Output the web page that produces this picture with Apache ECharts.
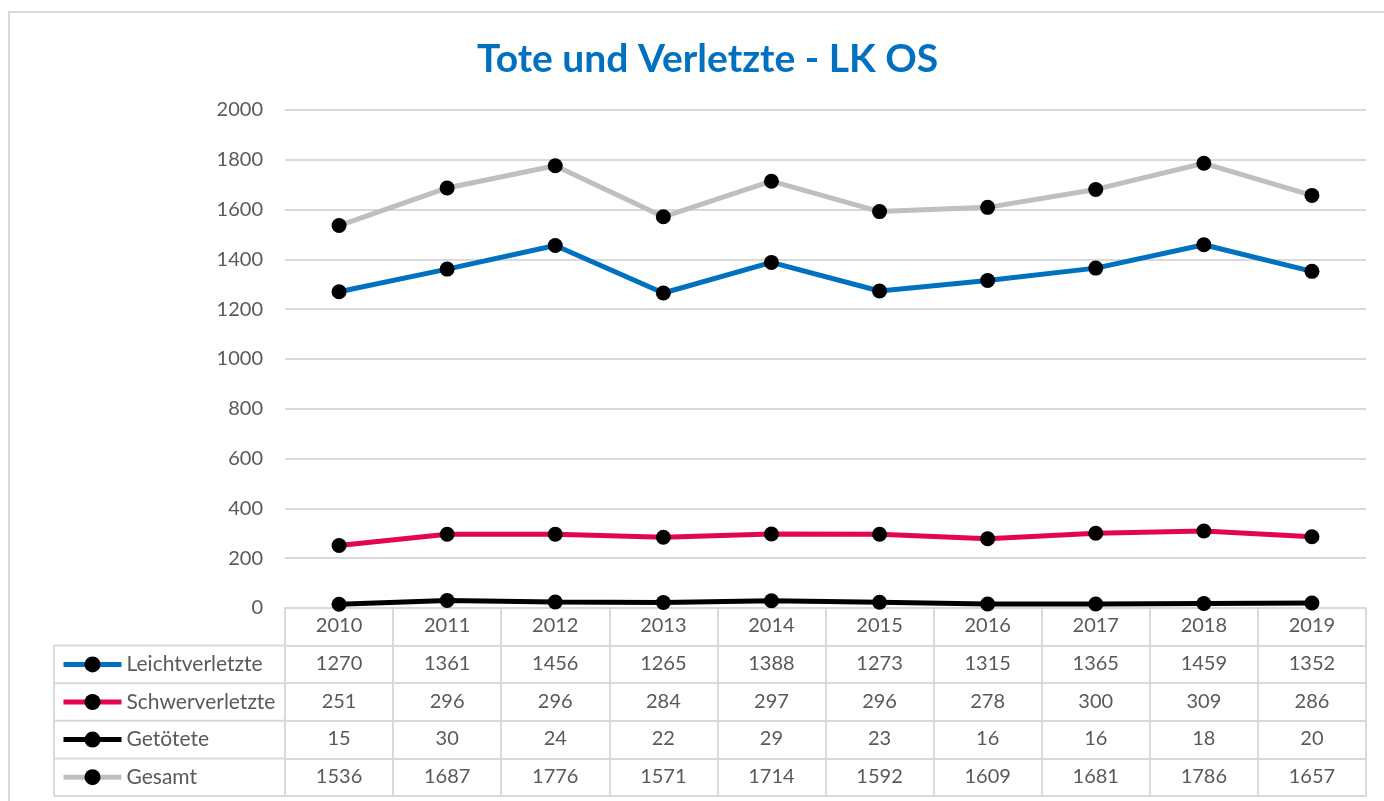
<!DOCTYPE html>
<html>
<head>
<meta charset="utf-8">
<script src="https://cdn.jsdelivr.net/npm/echarts@6/dist/echarts.min.js"></script>
<style>
  html, body { margin: 0; padding: 0; background: #fff; }
  #chart { width: 1384px; height: 801px; }
</style>
</head>
<body>
<div id="chart"></div>
<script>
// data
const years = ['2010', '2011', '2012', '2013', '2014', '2015', '2016', '2017', '2018', '2019']
const leicht = [1270, 1361, 1456, 1265, 1388, 1273, 1315, 1365, 1459, 1352]
const schwer = [251, 296, 296, 284, 297, 296, 278, 300, 309, 286]
const getoetet = [15, 30, 24, 22, 29, 23, 16, 16, 18, 20]
const gesamt = [1536, 1687, 1776, 1571, 1714, 1592, 1609, 1681, 1786, 1657]
const yTicks = [0, 2000, 200]

const seriesDefs = [
  { name: 'Leichtverletzte', color: '#0070C0', data: leicht },
  { name: 'Schwerverletzte', color: '#E3064E', data: schwer },
  { name: 'Getötete', color: '#000000', data: getoetet },
  { name: 'Gesamt', color: '#BFBFBF', data: gesamt }
]

const FONT = 'Lato'
const TXT = '#595959'
const LINE = '#d9d9d9'
const ROW = 37.6
const gridTop = 110, gridBottom = 193, gridLeft = 285, gridRight = 18
const axisY = 801 - gridBottom
const tableLeft = 54

let myChart = echarts.init(document.getElementById('chart'))

// table rows as extra x axes (one per series) + closing line
let xAxes = [{
  type: 'category',
  data: years,
  gridIndex: 0,
  position: 'bottom',
  axisLine: { show: true, lineStyle: { color: LINE, width: 2 } },
  axisTick: { show: true, interval: 0, length: ROW, lineStyle: { color: LINE, width: 2 } },
  axisLabel: { interval: 0, color: TXT, fontSize: 20, fontFamily: FONT, margin: 8 }
}]
seriesDefs.forEach((s, k) => {
  xAxes.push({
    type: 'category',
    data: years,
    gridIndex: 0,
    position: 'bottom',
    offset: ROW * (k + 1),
    axisLine: { show: true, lineStyle: { color: LINE, width: 2 } },
    axisTick: { show: true, interval: 0, length: ROW, lineStyle: { color: LINE, width: 2 } },
    axisLabel: {
      interval: 0, color: TXT, fontSize: 20, fontFamily: FONT, margin: 8,
      formatter: (v, i) => String(s.data[i])
    }
  })
})
xAxes.push({
  type: 'category',
  data: years,
  gridIndex: 0,
  position: 'bottom',
  offset: ROW * 5,
  axisLine: { show: true, lineStyle: { color: LINE, width: 2 } },
  axisTick: { show: false },
  axisLabel: { show: false }
})

// left column lines of the table
let tableLines = []
for (let k = 1; k <= 5; k++) {
  tableLines.push({
    type: 'line',
    shape: { x1: tableLeft, y1: axisY + ROW * k, x2: gridLeft, y2: axisY + ROW * k },
    style: { stroke: LINE, lineWidth: 2 }
  })
}
tableLines.push({
  type: 'line',
  shape: { x1: tableLeft, y1: axisY + ROW, x2: tableLeft, y2: axisY + ROW * 5 },
  style: { stroke: LINE, lineWidth: 2 }
})

myChart.setOption({
  animation: false,
  backgroundColor: '#fff',
  title: {
    text: 'Tote und Verletzte - LK OS',
    left: 472,
    top: 35,
    textStyle: { color: '#0070C0', fontSize: 39, fontWeight: 'bold', fontFamily: FONT }
  },
  grid: { top: gridTop, bottom: gridBottom, left: gridLeft, right: gridRight, containLabel: false },
  legend: {
    orient: 'vertical',
    left: 56,
    top: axisY + ROW + (ROW - 22) / 2 - 5,
    itemWidth: 58,
    itemHeight: 20,
    itemGap: ROW - 22,
    selectedMode: false,
    lineStyle: { width: 5 },
    textStyle: { color: TXT, fontSize: 21, fontFamily: FONT, lineHeight: 22 },
    data: seriesDefs.map(s => s.name)
  },
  xAxis: xAxes,
  yAxis: {
    type: 'value',
    min: yTicks[0],
    max: yTicks[1],
    interval: yTicks[2],
    axisLine: { show: false },
    axisTick: { show: false },
    axisLabel: { color: TXT, fontSize: 20, fontFamily: FONT, margin: 22, formatter: v => String(v) },
    splitLine: { lineStyle: { color: LINE, width: 2 } }
  },
  graphic: [
    {
      type: 'rect',
      shape: { x: 9, y: 12, width: 1400, height: 820 },
      style: { fill: 'none', stroke: LINE, lineWidth: 2 },
      silent: true
    },
    ...tableLines
  ],
  series: seriesDefs.map(s => ({
    type: 'line',
    name: s.name,
    data: s.data,
    symbol: 'circle',
    symbolSize: 15,
    lineStyle: { color: s.color, width: 5 },
    itemStyle: { color: '#000' },
    emphasis: { disabled: true }
  }))
})

window.addEventListener('resize', () => {
  myChart.resize()
})
</script>
</body>
</html>
